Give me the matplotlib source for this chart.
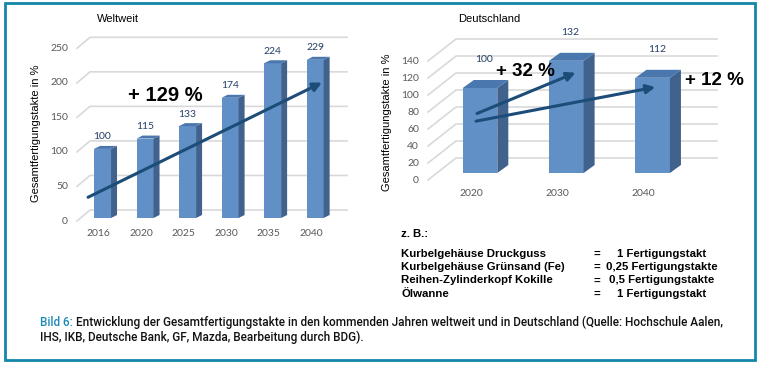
import numpy as np
import matplotlib.pyplot as plt
from matplotlib.patches import Polygon, Rectangle

# data
years_world = ['2016', '2020', '2025', '2030', '2035', '2040']
vals_world = [100, 115, 133, 174, 224, 229]
ticks_world = [0, 50, 100, 150, 200, 250]

years_de = ['2020', '2030', '2040']
vals_de = [100, 132, 112]
ticks_de = [0, 20, 40, 60, 80, 100, 120, 140]

legend_items = ['Kurbelgehäuse Druckguss', 'Kurbelgehäuse Grünsand (Fe)',
                'Reihen-Zylinderkopf Kokille', 'Ölwanne']
legend_values = ['1 Fertigungstakt', '0,25 Fertigungstakte',
                 '0,5 Fertigungstakte', '1 Fertigungstakt']

caption_1 = ('Entwicklung der Gesamtfertigungstakte in den kommenden Jahren weltweit '
             'und in Deutschland (Quelle: Hochschule Aalen,')
caption_2 = 'IHS, IKB, Deutsche Bank, GF, Mazda, Bearbeitung durch BDG).'

W, H = 762, 367
FRONT = '#6190c6'
SIDE = '#40628c'
TOP = '#4a78ae'
ARROW = '#1b4d78'
GRID = '#d9d9d9'
TICKC = '#595959'
VALC = '#243f66'
FRAME = '#1386a9'

fig = plt.figure(figsize=(W / 100, H / 100), dpi=100)


def px_axes(left, right, top, bottom):
    # pixel box (from top-left) -> axes
    return fig.add_axes([left / W, 1 - bottom / H, (right - left) / W, (bottom - top) / H])


def fx(x):
    return x / W


def fy(y):
    return 1 - y / H


def draw_chart(ax, cats, vals, yticks, bw, depth, back, drop, grid_x, val_off, xlab_off):
    ax.set_axis_off()
    ax.patch.set_visible(False)
    ppx, ppy = ax.transData.transform((1, 1)) - ax.transData.transform((0, 0))
    dx, dy = depth[0] / ppx, depth[1] / ppy
    x0 = ax.get_xlim()[0]
    xs = x0 + grid_x[0] / ppx
    xe = x0 + grid_x[1] / ppx
    # fake 3d wall: slanted stub on the left, horizontal line at the back
    for v in yticks:
        yl = v - drop / ppy
        yb = v + back / ppy
        ax.plot([x0, xs, xe], [yl, yb, yb], color=GRID, lw=1.2, clip_on=False, zorder=1)
        ax.text(x0 - 9 / ppx, yl, str(v), ha='right', va='center', color=TICKC,
                fontsize=7.5, family='Lato')
    x = np.arange(len(cats))
    ax.bar(x, vals, width=bw, color=FRONT, zorder=3)
    for xi, v, c in zip(x, vals, cats):
        l, r = xi - bw / 2, xi + bw / 2
        ax.add_patch(Polygon([(r, 0), (r + dx, dy), (r + dx, v + dy), (r, v)],
                             closed=True, color=SIDE, zorder=3, lw=0))
        ax.add_patch(Polygon([(l, v), (l + dx, v + dy), (r + dx, v + dy), (r, v)],
                             closed=True, color=TOP, zorder=3, lw=0))
        ax.text(xi + val_off[0] / ppx, v + val_off[1] / ppy, str(v), ha='center', va='center',
                color=VALC, fontsize=7.5, family='Lato')
        ax.text(xi + xlab_off[0] / ppx, -xlab_off[1] / ppy, c, ha='center', va='center',
                color=TICKC, fontsize=7.5, family='Lato')


def arrow(ax, start, end):
    ax.annotate('', xy=end, xytext=start, annotation_clip=False, zorder=5,
                arrowprops=dict(arrowstyle='-|>', color=ARROW, lw=2.2,
                                mutation_scale=13, shrinkA=0, shrinkB=0))


# left chart: Weltweit
ax1 = px_axes(77, 350, 37, 218)
ax1.set_xlim(-0.6, 5.82)
ax1.set_ylim(0, 262)
draw_chart(ax1, years_world, vals_world, ticks_world, 0.4, (6, 3), 8, 3,
           (13, 270), (0, 12), (-4, 16))
arrow(ax1, (-0.34, 30), (5.16, 196))
ax1.text(1.47, 178, '+ 129 %', ha='center', va='center', fontsize=14.5,
         fontweight='bold', family='Liberation Sans')
fig.text(fx(97), fy(19), 'Weltweit', ha='left', va='center', fontsize=8,
         family='Liberation Sans')
fig.text(fx(36), fy(133), 'Gesamtfertigungstakte in %', rotation=90, ha='center',
         va='center', fontsize=8, family='Liberation Sans')

# right chart: Deutschland
ax2 = px_axes(428, 720, 37, 173)
ax2.set_xlim(-0.603, 2.78)
ax2.set_ylim(0, 160)
draw_chart(ax2, years_de, vals_de, ticks_de, 0.4, (11, 8), 15, 7,
           (28, 289), (4, 28), (-9, 20))
arrow(ax2, (-0.035, 70), (1.107, 118))
arrow(ax2, (-0.046, 61), (2.03, 101))
ax2.text(0.53, 119, '+ 32 %', ha='center', va='center', fontsize=13.5,
         fontweight='bold', family='Liberation Sans')
ax2.text(2.71, 109, '+ 12 %', ha='center', va='center', fontsize=13.5,
         fontweight='bold', family='Liberation Sans')
fig.text(fx(458), fy(19), 'Deutschland', ha='left', va='center', fontsize=8,
         family='Liberation Sans')
fig.text(fx(387), fy(122), 'Gesamtfertigungstakte in %', rotation=90, ha='center',
         va='center', fontsize=8, family='Liberation Sans')

# example list
lf = dict(fontsize=8.2, fontweight='bold', family='Liberation Sans', va='center')
fig.text(fx(401), fy(234), 'z. B.:', ha='left', **lf)
for i, (item, val) in enumerate(zip(legend_items, legend_values)):
    y = fy(254 + i * 13.2)
    fig.text(fx(401), y, item, ha='left', **lf)
    fig.text(fx(597), y, '=', ha='center', **lf)
    fig.text(fx(662), y, val, ha='center', **lf)

# caption, shrink font until line 1 fits the frame
cap_font = dict(fontsize=8.5, family=['Roboto', 'DejaVu Sans'], fontweight='medium',
                va='center')
t = fig.text(fx(40), fy(322), 'Bild 6:', ha='left', color='#1a8ab8', **cap_font)
t1 = fig.text(fx(40), fy(322), caption_1, ha='left', color='#111111', **cap_font)
t2 = fig.text(fx(40), fy(337), caption_2, ha='left', color='#111111', **cap_font)
r = fig.canvas.get_renderer()
for _ in range(3):
    w = t.get_window_extent(r).width + 3 + t1.get_window_extent(r).width
    size = t1.get_fontsize() * min(1.0, 699 / w)
    for tt in (t, t1, t2):
        tt.set_fontsize(size)
t1.set_x(fx(40) + (t.get_window_extent(r).width + 3) / W)

# frame
fig.patches.append(Rectangle((fx(5), fy(360)), fx(750), 357 / H, transform=fig.transFigure,
                             fill=False, edgecolor=FRAME, lw=2))

fig.savefig('out.png', dpi=100)
